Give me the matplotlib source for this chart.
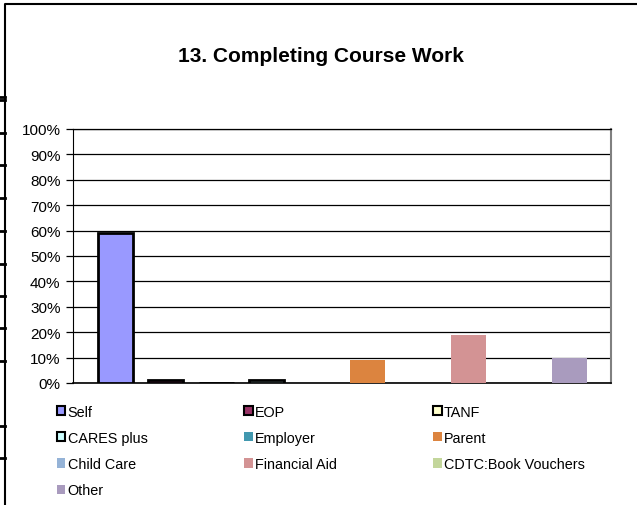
import matplotlib
matplotlib.use("Agg")
import matplotlib.pyplot as plt
from matplotlib.lines import Line2D
from matplotlib.patches import Patch
import numpy as np

plt.rcParams['font.family'] = ['Liberation Sans', 'DejaVu Sans']

title = "13. Completing Course Work"
series = ["Self", "EOP", "TANF", "CARES plus", "Employer", "Parent",
          "Child Care", "Financial Aid", "CDTC:Book Vouchers", "Other"]
values = [59, 1, 0, 1, 0, 9, 0, 19, 0, 10]
colors = ["#9999FF", "#993366", "#FFFFCC", "#CCFFFF", "#4198AF", "#DC843F",
          "#95B3D7", "#D39394", "#C3D69B", "#A99BBE"]
outlined = [True, True, True, True, False, False, False, False, False, False]
yticks = [0, 10, 20, 30, 40, 50, 60, 70, 80, 90, 100]

W, H = 637, 506
fig = plt.figure(figsize=(W / 100, H / 100), dpi=100)
ax = fig.add_axes([73 / W, 1 - 384 / H, (611 - 73) / W, (384 - 130) / H])

x = np.arange(len(series))
for i in range(len(series)):
    ax.bar(x[i], values[i], width=0.69, color=colors[i],
           edgecolor="black" if outlined[i] else "none",
           linewidth=2 if outlined[i] else 0, zorder=3)

ax.set_xlim(-0.84, 9.83)
ax.set_ylim(0, 100)
ax.set_yticks(yticks)
ax.set_yticklabels([f"{v}%" for v in yticks], fontsize=11)
ax.set_xticks([])
ax.yaxis.grid(True, color="black", linewidth=0.9, zorder=0)
ax.tick_params(axis="y", length=5, width=0.9, pad=4, direction="out")
ax.spines["left"].set_color("black")
ax.spines["bottom"].set_color("black")
ax.spines["bottom"].set_linewidth(1.2)
ax.spines["right"].set_color("#808080")
ax.spines["right"].set_linewidth(1.5)
ax.spines["top"].set_color("black")
ax.spines["top"].set_linewidth(0.9)

fig.text(321 / W, 1 - 56 / H, title, ha="center", va="center",
         fontsize=15, fontweight="bold")

# legend, filled row by row like the original
handles = []
for i in range(len(series)):
    handles.append(Patch(facecolor=colors[i],
                         edgecolor="black" if outlined[i] else "none",
                         linewidth=1.5 if outlined[i] else 0,
                         label=series[i]))
order = [0, 3, 6, 9, 1, 4, 7, 2, 5, 8]
fig.legend([handles[k] for k in order], [series[k] for k in order],
           loc="upper left", bbox_to_anchor=(51 / W, 1 - 400 / H),
           ncol=3, frameon=False, fontsize=10.4, handlelength=0.6,
           handleheight=0.6, handletextpad=0.15, columnspacing=6.68,
           labelspacing=0.84, borderaxespad=0)

# outer frame and stray tick marks on the left edge
fig.add_artist(Line2D([5 / W, 5 / W, 1], [0, 1 - 5 / H, 1 - 5 / H],
                      transform=fig.transFigure, color="black", linewidth=1.5))
stray = [98, 101, 134, 166, 199, 232, 265, 297, 329, 362, 427, 459]
for yy in stray:
    fig.add_artist(Line2D([0, 5 / W], [1 - yy / H, 1 - yy / H],
                          transform=fig.transFigure, color="black", linewidth=2))

fig.savefig("out.png", dpi=100)
